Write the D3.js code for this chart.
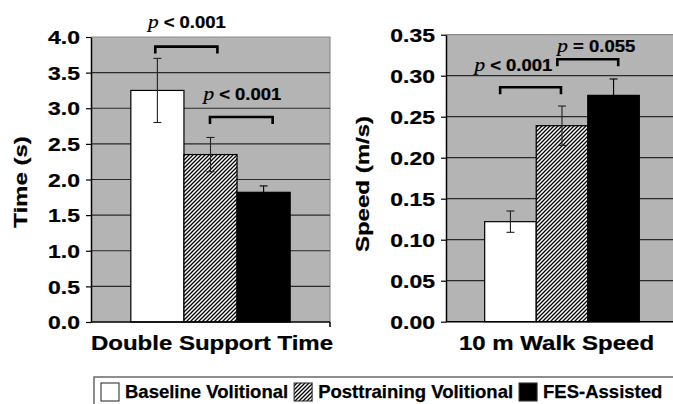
<!DOCTYPE html>
<html><head><meta charset="utf-8">
<script src="https://cdn.jsdelivr.net/npm/d3@7"></script>
<style>body{margin:0;background:#fff;overflow:hidden} svg{display:block} text{stroke:#000;stroke-width:0.25px}</style>
</head><body>
<svg id="c" width="673" height="404"></svg>
<script>
// ---- data ----
const series = ["Baseline Volitional", "Posttraining Volitional", "FES-Assisted"];
const panelTitles = ["Double Support Time", "10 m Walk Speed"];
const yTitles = ["Time (s)", "Speed (m/s)"];
const timeValues = [3.25, 2.35, 1.82];
const timeErrors = [0.45, 0.24, 0.09];
const speedValues = [0.122, 0.239, 0.276];
const speedErrors = [0.013, 0.024, 0.020];
const timeTicks = [0, 0.5, 1.0, 1.5, 2.0, 2.5, 3.0, 3.5, 4.0];
const speedTicks = [0, 0.05, 0.10, 0.15, 0.20, 0.25, 0.30, 0.35];
// significance annotations: bar-unit positions, value heights
const timeSig = [
  {from: 0.46, to: 1.63, at: 3.865, lx: 1.055, ly: 4.126, op: "<", p: "0.001"},
  {from: 1.49, to: 2.67, at: 2.878, lx: 2.10, ly: 3.116, op: "<", p: "0.001"}
];
const speedSig = [
  {from: 0.30, to: 1.48, at: 0.286, lx: 0.556, ly: 0.3057, op: "<", p: "0.001"},
  {from: 1.41, to: 2.59, at: 0.320, lx: 2.165, ly: 0.3293, op: "=", p: "0.055"}
];

const svg = d3.select("#c");
const SANS = "'Liberation Sans', Arial, sans-serif";
const SERIF = "'Liberation Serif', 'Times New Roman', serif";

// hatch pattern
const defs = svg.append("defs");
const pat = defs.append("pattern").attr("id", "hatch").attr("patternUnits", "userSpaceOnUse")
  .attr("width", 4).attr("height", 4);
pat.append("rect").attr("width", 4).attr("height", 4).attr("fill", "#fff");
pat.append("path").attr("d", "M-1,1 l2,-2 M0,4 l4,-4 M3,5 l2,-2")
  .attr("stroke", "#000").attr("stroke-width", 1.3);
const fills = ["#fff", "url(#hatch)", "#000"];

const panels = [
  {values: timeValues, errors: timeErrors, ticks: timeTicks, fmt: ".1f",
   x0: 91, x1: 330, y0: 322, y1: 37, title: panelTitles[0], titleX: 212,
   yTitle: yTitles[0], yTitleX: 27, yTitleY: 182, sig: timeSig},
  {values: speedValues, errors: speedErrors, ticks: speedTicks, fmt: ".2f",
   x0: 446, x1: 678, y0: 321.7, y1: 34.7, title: panelTitles[1], titleX: 556.5,
   yTitle: yTitles[1], yTitleX: 369, yTitleY: 184, sig: speedSig}
];

panels.forEach(P => {
  const y = d3.scaleLinear().domain([0, d3.max(P.ticks)]).range([P.y0, P.y1]);
  const outer = d3.scaleBand().domain(["g"]).range([P.x0, P.x1]).padding(0.2);
  const inner = d3.scaleBand().domain(series)
    .range([outer("g"), outer("g") + outer.bandwidth()]);
  const bw = inner.bandwidth();
  const gx = u => outer("g") + u * bw;
  const g = svg.append("g");

  // background
  g.append("rect").attr("x", P.x0).attr("y", P.y1)
    .attr("width", P.x1 - P.x0).attr("height", P.y0 - P.y1).attr("fill", "#b4b4b4");
  // top/right border
  g.append("path").attr("d", `M${P.x0},${P.y1}H${P.x1}V${P.y0}`)
    .attr("fill", "none").attr("stroke", "#8c8c8c").attr("stroke-width", 1.2);
  // gridlines
  g.selectAll(".grid").data(P.ticks.filter(t => t > 0 && t < d3.max(P.ticks))).join("line")
    .attr("x1", P.x0).attr("x2", P.x1).attr("y1", d => y(d)).attr("y2", d => y(d))
    .attr("stroke", "#2a2a2a").attr("stroke-width", 1.2);

  // bars
  g.selectAll(".bar").data(P.values).join("rect")
    .attr("x", (d, i) => inner(series[i])).attr("width", bw)
    .attr("y", d => y(d)).attr("height", d => P.y0 - y(d))
    .attr("fill", (d, i) => fills[i]).attr("stroke", "#000").attr("stroke-width", 1.2);

  // error bars
  P.values.forEach((v, i) => {
    const cx = inner(series[i]) + bw / 2, e = P.errors[i];
    const col = i === 2 ? "#000" : "#222";
    g.append("line").attr("x1", cx).attr("x2", cx).attr("y1", y(v - e)).attr("y2", y(v + e))
      .attr("stroke", col).attr("stroke-width", 1.1);
    [v - e, v + e].forEach(w => g.append("line").attr("x1", cx - 4).attr("x2", cx + 4)
      .attr("y1", y(w)).attr("y2", y(w)).attr("stroke", col).attr("stroke-width", 1.1));
  });

  // y axis
  const ax = g.append("g").attr("transform", `translate(${P.x0},0)`)
    .call(d3.axisLeft(y).tickValues(P.ticks).tickFormat(d3.format(P.fmt)).tickSize(5).tickSizeOuter(0));
  ax.select(".domain").attr("stroke", "#000").attr("stroke-width", 1.5);
  ax.selectAll(".tick line").attr("stroke", "#000").attr("stroke-width", 1.2);
  ax.selectAll(".tick text").attr("x", 0).attr("dy", null).attr("y", 0)
    .attr("transform", "translate(-11,6.7) scale(1.24,1)")
    .attr("text-anchor", "end")
    .style("font-family", SANS).style("font-weight", "bold").style("font-size", "18.5px").attr("fill", "#000");

  // bottom axis line
  g.append("path").attr("d", `M${P.x0},${P.y0}H${P.x1}M${P.x1},${P.y0}v5`)
    .attr("stroke", "#000").attr("stroke-width", 1.5).attr("fill", "none");

  // x title
  g.append("text").attr("transform", `translate(${P.titleX},350) scale(1.2,1)`)
    .attr("text-anchor", "middle").style("font-family", SANS).style("font-weight", "bold")
    .style("font-size", "20px").text(P.title);
  // y title
  g.append("text").attr("transform", `translate(${P.yTitleX},${P.yTitleY}) rotate(-90) scale(1.3,1)`)
    .attr("text-anchor", "middle").style("font-family", SANS).style("font-weight", "bold")
    .style("font-size", "18.5px").text(P.yTitle);

  // significance brackets
  P.sig.forEach(s => {
    const yy = y(s.at);
    g.append("path").attr("d", `M${gx(s.from)},${yy + 7}V${yy}H${gx(s.to)}V${yy + 7}`)
      .attr("fill", "none").attr("stroke", "#000").attr("stroke-width", 2.6);
    const t = g.append("text").attr("transform", `translate(${gx(s.lx)},${y(s.ly)}) scale(1.12,1)`)
      .attr("text-anchor", "middle").style("font-size", "16.5px");
    t.append("tspan").style("font-family", SERIF).style("font-style", "italic").style("font-size", "19px").text("p");
    t.append("tspan").style("font-family", SANS).style("font-weight", "bold").text(` ${s.op} ${s.p}`);
  });
});

// legend
const lg = svg.append("g");
lg.append("rect").attr("x", 94).attr("y", 377).attr("width", 600).attr("height", 40)
  .attr("fill", "#fff").attr("stroke", "#6a6a6a").attr("stroke-width", 1.5);
let lx = 101;
series.forEach((s, i) => {
  lg.append("rect").attr("x", lx).attr("y", 383).attr("width", 18).attr("height", 18)
    .attr("fill", fills[i]).attr("stroke", "#333").attr("stroke-width", 1.1);
  const t = lg.append("text").attr("x", lx + 24).attr("y", 398)
    .style("font-family", SANS).style("font-weight", "bold").style("font-size", "18.5px").text(s);
  lx = lx + 24 + t.node().getComputedTextLength() + 6;
});
</script>
</body></html>
